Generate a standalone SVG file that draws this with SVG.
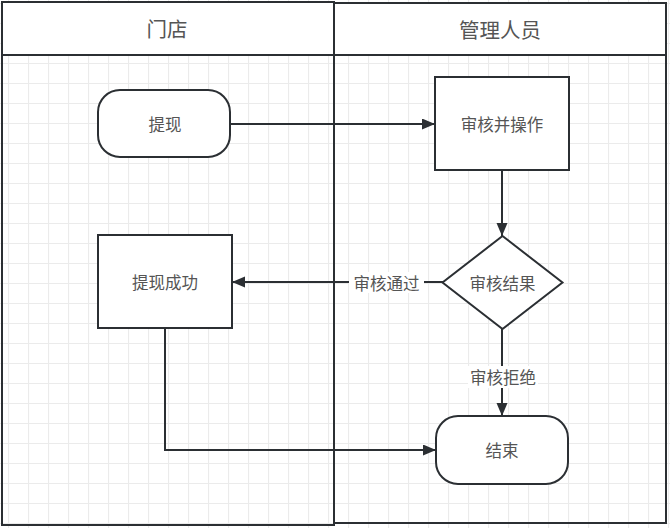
<svg xmlns="http://www.w3.org/2000/svg" width="670" height="528" viewBox="0 0 670 528">
<defs>
<pattern id="grid" x="8" y="3" width="20" height="20" patternUnits="userSpaceOnUse">
<path d="M0.5 0 V20 M0 0.5 H20" fill="none" stroke="#ebebeb" stroke-width="1.2"/>
</pattern>
<marker id="arr" markerUnits="userSpaceOnUse" markerWidth="14" markerHeight="12" refX="13" refY="5.5" orient="auto">
<path d="M0,0 L13,5.5 L0,11 Z" fill="#2b2f33"/>
</marker>
<style>
.lane{fill:none;stroke:#2b2f33;stroke-width:2}
.hdr{fill:#fff;stroke:#2b2f33;stroke-width:2}
.node{fill:#fff;stroke:#2b2f33;stroke-width:2}
.edge{fill:none;stroke:#2b2f33;stroke-width:2}
.t{font-family:"Noto Sans CJK SC","Microsoft YaHei",sans-serif;font-size:16.5px;fill:#555;text-anchor:middle;dominant-baseline:central}
.h{font-size:20.5px}
.lbl{fill:#fff}
</style>
</defs>
<rect x="0" y="0" width="670" height="528" fill="#fff"/>
<rect x="0" y="0" width="670" height="528" fill="url(#grid)"/>
<g id="lane-store">
<rect class="hdr" x="2" y="2" width="332" height="53"/>
<rect class="lane" x="2" y="2" width="332" height="523"/>
<text class="t h" x="167" y="28">门店</text>
</g>
<g id="lane-admin">
<rect class="hdr" x="334" y="3" width="332" height="52"/>
<rect class="lane" x="334" y="3" width="332" height="520"/>
<text class="t h" x="500" y="29">管理人员</text>
</g>
<g id="connectors">
<path class="edge" d="M230 124 H435" marker-end="url(#arr)"/>
<path class="edge" d="M502 170 V236" marker-end="url(#arr)"/>
<path class="edge" d="M443 282 H232" marker-end="url(#arr)"/>
<path class="edge" d="M502 329 V416" marker-end="url(#arr)"/>
<path class="edge" d="M165 328 V450 H436" marker-end="url(#arr)"/>
<rect class="lbl" x="349" y="272" width="75" height="21"/>
<text class="t" x="386.5" y="282.5">审核通过</text>
<rect class="lbl" x="468" y="366" width="70" height="22"/>
<text class="t" x="503" y="377">审核拒绝</text>
</g>
<g id="n-withdraw">
<rect class="node" x="98" y="90" width="132" height="67" rx="22" ry="22"/>
<text class="t" x="165" y="124">提现</text>
</g>
<g id="n-review">
<rect class="node" x="435" y="77" width="134" height="93"/>
<text class="t" x="502" y="124">审核并操作</text>
</g>
<g id="n-result">
<path class="node" d="M502.5 236 L562.5 282.5 L502.5 329 L442.5 282.5 Z"/>
<text class="t" x="502.5" y="282.5">审核结果</text>
</g>
<g id="n-success">
<rect class="node" x="98" y="235" width="134" height="93"/>
<text class="t" x="165" y="282">提现成功</text>
</g>
<g id="n-end">
<rect class="node" x="436" y="416" width="132" height="68" rx="22" ry="22"/>
<text class="t" x="502" y="450">结束</text>
</g>
</svg>
